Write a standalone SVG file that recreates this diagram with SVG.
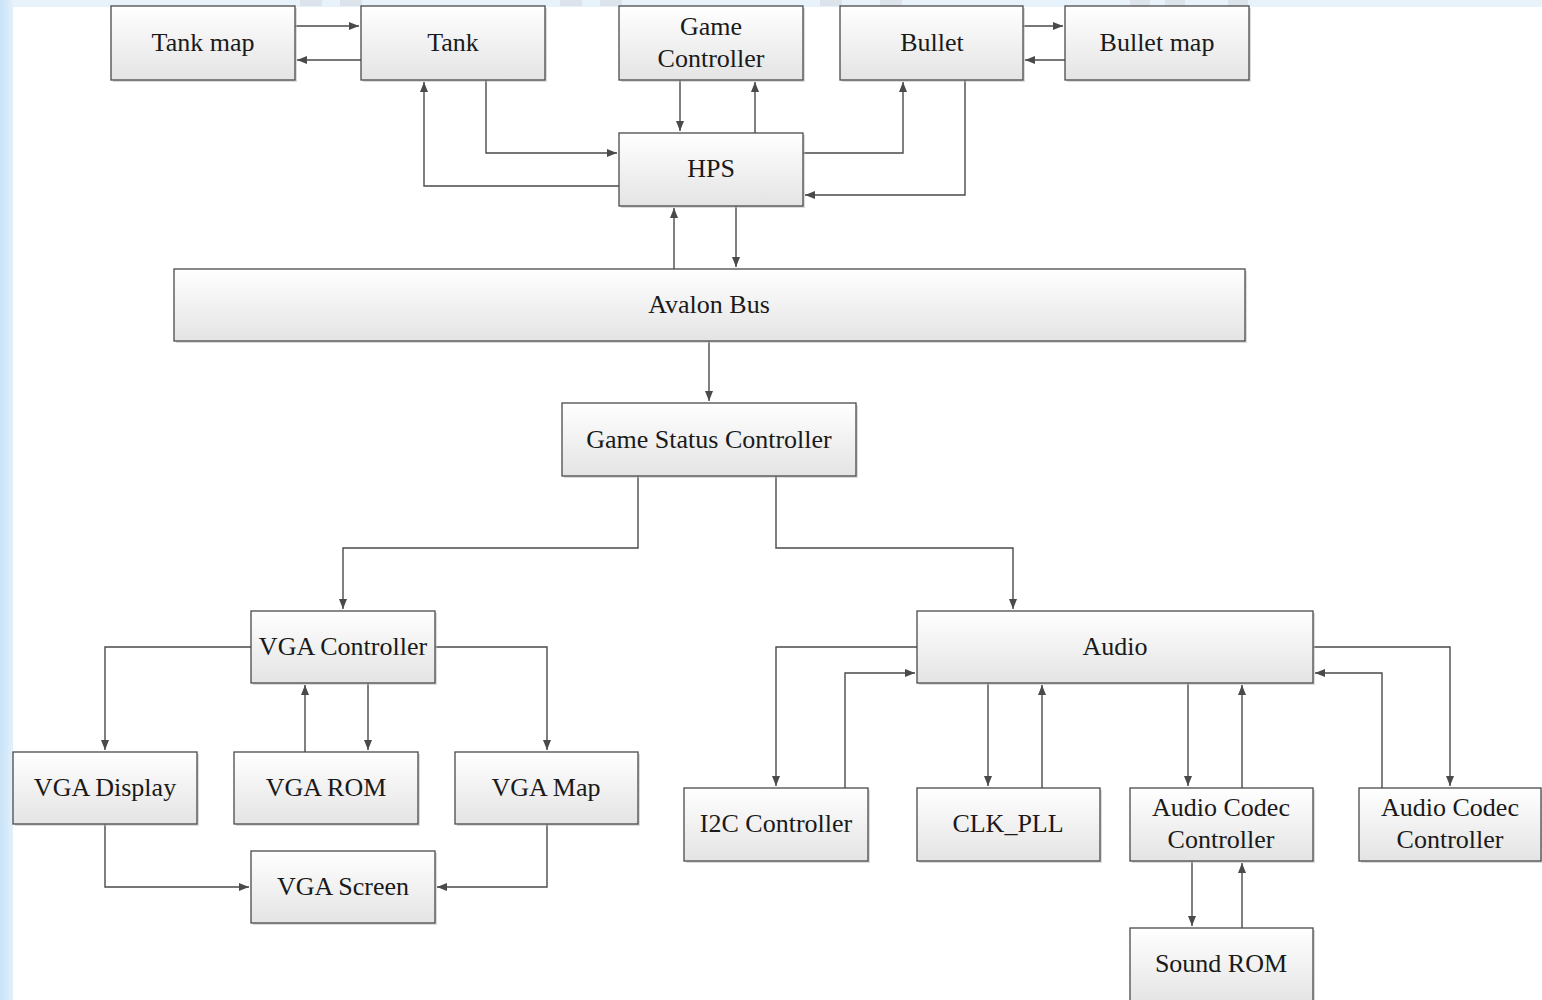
<svg xmlns="http://www.w3.org/2000/svg" width="1542" height="1000" viewBox="0 0 1542 1000">
<style>
.box{fill:url(#g);stroke:#4a4a4a;stroke-width:1.3}
.sh{fill:#bdbdbd;opacity:0.55}
.t{font-family:"Liberation Serif","Times New Roman",serif;font-size:26px;fill:#1a1a1a;text-anchor:middle}
.c path{fill:none;stroke:#4a4a4a;stroke-width:1.4;marker-end:url(#a)}
</style>
<defs>
<linearGradient id="g" x1="0" y1="0" x2="0" y2="1">
<stop offset="0" stop-color="#ffffff"/>
<stop offset="1" stop-color="#e4e4e4"/>
</linearGradient>
<linearGradient id="bgl" x1="0" y1="0" x2="1" y2="0">
<stop offset="0" stop-color="#c9e3f7"/>
<stop offset="1" stop-color="#e3f0fb"/>
</linearGradient>
<marker id="a" markerUnits="userSpaceOnUse" markerWidth="11" markerHeight="9" refX="10" refY="4" orient="auto">
<path d="M0,0 L10,4 L0,8 z" fill="#4a4a4a"/>
</marker>
</defs>
<rect x="0" y="0" width="1542" height="1000" fill="url(#bgl)"/>
<rect x="0" y="0" width="1542" height="7" fill="#e8f2fb"/>
<rect x="0" y="0" width="13" height="1000" fill="url(#bgl)"/>
<g fill="#dde3ea">
<rect x="300" y="0" width="22" height="6"/><rect x="340" y="0" width="22" height="6"/>
<rect x="560" y="0" width="22" height="6"/><rect x="600" y="0" width="22" height="6"/>
<rect x="820" y="0" width="22" height="6"/><rect x="880" y="0" width="22" height="6"/>
<rect x="1130" y="0" width="20" height="6"/><rect x="1165" y="0" width="20" height="6"/><rect x="1228" y="0" width="20" height="6"/>
</g>
<rect x="13" y="7" width="1529" height="993" fill="#ffffff"/>

<g id="connectors" class="c">
<path d="M295,26 H359"/>
<path d="M361,60 H297"/>
<path d="M486,80 V153 H617"/>
<path d="M619,186 H424 V82"/>
<path d="M680,80 V131"/>
<path d="M755,133 V82"/>
<path d="M803,153 H903 V82"/>
<path d="M965,80 V195 H805"/>
<path d="M1023,26 H1063"/>
<path d="M1065,60 H1025"/>
<path d="M674,269 V208"/>
<path d="M736,206 V267"/>
<path d="M709,341 V401"/>
<path d="M638,476 V548 H343 V609"/>
<path d="M776,476 V548 H1013 V609"/>
<path d="M251,647 H105 V750"/>
<path d="M435,647 H547 V750"/>
<path d="M305,752 V685"/>
<path d="M368,683 V750"/>
<path d="M105,824 V887 H249"/>
<path d="M547,824 V887 H437"/>
<path d="M917,647 H776 V786"/>
<path d="M845,788 V673 H915"/>
<path d="M988,683 V786"/>
<path d="M1042,788 V685"/>
<path d="M1188,683 V786"/>
<path d="M1242,788 V685"/>
<path d="M1313,647 H1450 V786"/>
<path d="M1382,788 V673 H1315"/>
<path d="M1192,861 V926"/>
<path d="M1242,928 V863"/>
</g>

<g id="tank-map"><rect class="sh" x="113" y="8" width="184" height="74"/><rect class="box" x="111" y="6" width="184" height="74"/><text class="t" x="203" y="51">Tank map</text></g>
<g id="tank"><rect class="sh" x="363" y="8" width="184" height="74"/><rect class="box" x="361" y="6" width="184" height="74"/><text class="t" x="453" y="51">Tank</text></g>
<g id="game-controller"><rect class="sh" x="621" y="8" width="184" height="74"/><rect class="box" x="619" y="6" width="184" height="74"/><text class="t" x="711" y="35">Game</text><text class="t" x="711" y="67">Controller</text></g>
<g id="bullet"><rect class="sh" x="842" y="8" width="183" height="74"/><rect class="box" x="840" y="6" width="183" height="74"/><text class="t" x="932" y="51">Bullet</text></g>
<g id="bullet-map"><rect class="sh" x="1067" y="8" width="184" height="74"/><rect class="box" x="1065" y="6" width="184" height="74"/><text class="t" x="1157" y="51">Bullet map</text></g>
<g id="hps"><rect class="sh" x="621" y="135" width="184" height="73"/><rect class="box" x="619" y="133" width="184" height="73"/><text class="t" x="711" y="177">HPS</text></g>
<g id="avalon-bus"><rect class="sh" x="176" y="271" width="1071" height="72"/><rect class="box" x="174" y="269" width="1071" height="72"/><text class="t" x="709" y="313">Avalon Bus</text></g>
<g id="game-status-controller"><rect class="sh" x="564" y="405" width="294" height="73"/><rect class="box" x="562" y="403" width="294" height="73"/><text class="t" x="709" y="448">Game Status Controller</text></g>
<g id="vga-controller"><rect class="sh" x="253" y="613" width="184" height="72"/><rect class="box" x="251" y="611" width="184" height="72"/><text class="t" x="343" y="655">VGA Controller</text></g>
<g id="vga-display"><rect class="sh" x="15" y="754" width="184" height="72"/><rect class="box" x="13" y="752" width="184" height="72"/><text class="t" x="105" y="796">VGA Display</text></g>
<g id="vga-rom"><rect class="sh" x="236" y="754" width="184" height="72"/><rect class="box" x="234" y="752" width="184" height="72"/><text class="t" x="326" y="796">VGA ROM</text></g>
<g id="vga-map"><rect class="sh" x="457" y="754" width="183" height="72"/><rect class="box" x="455" y="752" width="183" height="72"/><text class="t" x="546" y="796">VGA Map</text></g>
<g id="vga-screen"><rect class="sh" x="253" y="853" width="184" height="72"/><rect class="box" x="251" y="851" width="184" height="72"/><text class="t" x="343" y="895">VGA Screen</text></g>
<g id="audio"><rect class="sh" x="919" y="613" width="396" height="72"/><rect class="box" x="917" y="611" width="396" height="72"/><text class="t" x="1115" y="655">Audio</text></g>
<g id="i2c-controller"><rect class="sh" x="686" y="790" width="184" height="73"/><rect class="box" x="684" y="788" width="184" height="73"/><text class="t" x="776" y="832">I2C Controller</text></g>
<g id="clk-pll"><rect class="sh" x="919" y="790" width="183" height="73"/><rect class="box" x="917" y="788" width="183" height="73"/><text class="t" x="1008" y="832">CLK_PLL</text></g>
<g id="audio-codec-controller-1"><rect class="sh" x="1132" y="790" width="183" height="73"/><rect class="box" x="1130" y="788" width="183" height="73"/><text class="t" x="1221" y="816">Audio Codec</text><text class="t" x="1221" y="848">Controller</text></g>
<g id="audio-codec-controller-2"><rect class="sh" x="1361" y="790" width="183" height="73"/><rect class="box" x="1359" y="788" width="182" height="73"/><text class="t" x="1450" y="816">Audio Codec</text><text class="t" x="1450" y="848">Controller</text></g>
<g id="sound-rom"><rect class="sh" x="1132" y="930" width="183" height="74"/><rect class="box" x="1130" y="928" width="183" height="76"/><text class="t" x="1221" y="972">Sound ROM</text></g>
</svg>
